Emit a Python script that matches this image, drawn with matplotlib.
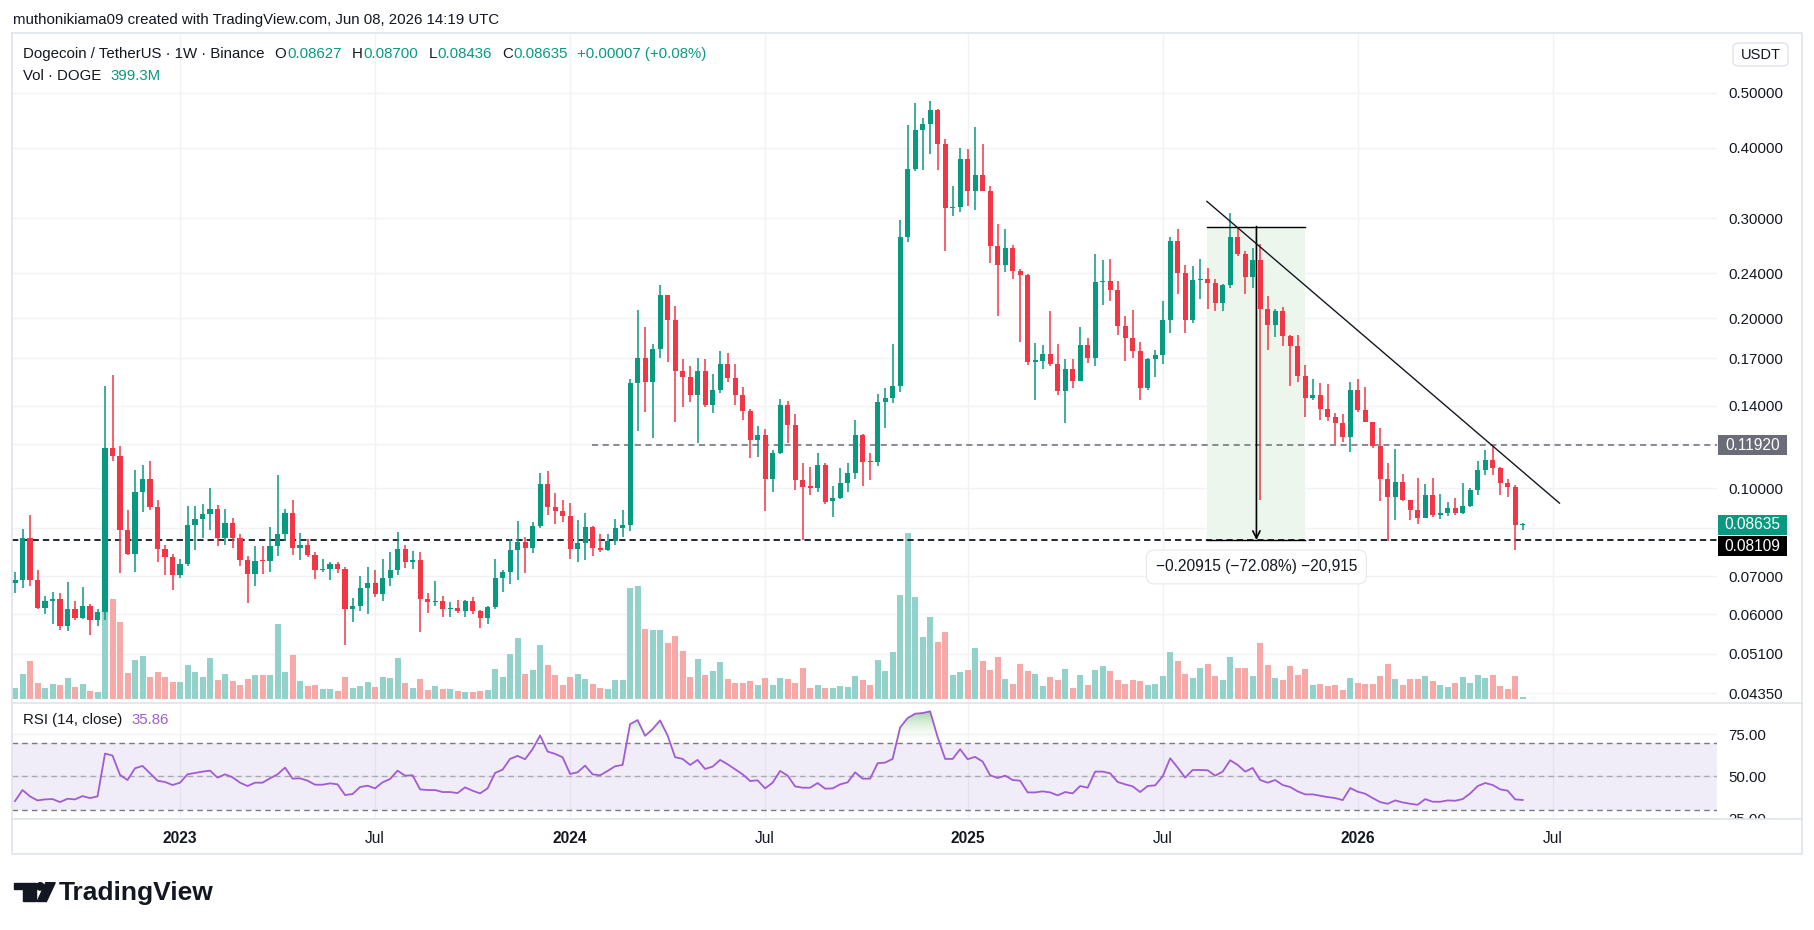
import numpy as np
import pandas as pd
import matplotlib
matplotlib.use("Agg")
import matplotlib.pyplot as plt
from matplotlib.patches import Rectangle, Circle, Polygon, FancyBboxPatch
from matplotlib.path import Path
from matplotlib.transforms import blended_transform_factory, Bbox, TransformedBbox
from matplotlib.ticker import NullLocator, FixedLocator
from matplotlib.colors import LinearSegmentedColormap

plt.rcParams["font.family"] = ["Liberation Sans", "DejaVu Sans"]

W, H = 1815, 930

# weekly DOGE/USDT candles, first week starting 2022-08-01
opens = [0.0680, 0.0689, 0.0818, 0.0690, 0.0615, 0.0632, 0.0637, 0.0572, 0.0612, 0.0591,
         0.0620, 0.0586, 0.0605, 0.1178, 0.1143, 0.0846, 0.0767, 0.0986, 0.1039, 0.0927,
         0.0783, 0.0758, 0.0702, 0.0735, 0.0862, 0.0884, 0.0901, 0.0920, 0.0819, 0.0869,
         0.0819, 0.0746, 0.0705, 0.0745, 0.0743, 0.0790, 0.0831, 0.0905, 0.0786, 0.0795,
         0.0764, 0.0718, 0.0721, 0.0734, 0.0720, 0.0613, 0.0620, 0.0667, 0.0681, 0.0651,
         0.0696, 0.0717, 0.0781, 0.0740, 0.0746, 0.0637, 0.0630, 0.0632, 0.0612, 0.0614,
         0.0607, 0.0632, 0.0608, 0.0591, 0.0617, 0.0696, 0.0711, 0.0777, 0.0805, 0.0786,
         0.0858, 0.1018, 0.0927, 0.0912, 0.0894, 0.0781, 0.0800, 0.0856, 0.0786, 0.0779,
         0.0809, 0.0852, 0.0862, 0.1537, 0.1700, 0.1539, 0.1764, 0.2196, 0.1988, 0.1615,
         0.1576, 0.1462, 0.1612, 0.1404, 0.1493, 0.1659, 0.1569, 0.1462, 0.1368, 0.1219,
         0.1243, 0.1041, 0.1156, 0.1404, 0.1296, 0.1036, 0.1008, 0.1003, 0.1098, 0.0950,
         0.0962, 0.1024, 0.1065, 0.1243, 0.1117, 0.1113, 0.1422, 0.1447, 0.1517, 0.2783,
         0.3668, 0.4301, 0.4407, 0.4668, 0.4053, 0.3124, 0.3139, 0.3819, 0.3358, 0.3581,
         0.3358, 0.2677, 0.2485, 0.2664, 0.2426, 0.2387, 0.1676, 0.1681, 0.1727, 0.1662,
         0.1488, 0.1625, 0.1551, 0.1793, 0.1703, 0.2315, 0.2330, 0.2246, 0.1934, 0.1843,
         0.1750, 0.1507, 0.1692, 0.1722, 0.1984, 0.2737, 0.2403, 0.1981, 0.2334, 0.2345,
         0.2311, 0.2129, 0.2289, 0.2783, 0.2596, 0.2368, 0.2534, 0.2072, 0.1943, 0.2062,
         0.1861, 0.1787, 0.1582, 0.1447, 0.1462, 0.1382, 0.1338, 0.1306, 0.1235, 0.1490,
         0.1374, 0.1310, 0.1189, 0.1041, 0.0965, 0.1026, 0.0953, 0.0917, 0.0888, 0.0973,
         0.0898, 0.0905, 0.0923, 0.0905, 0.0932, 0.0994, 0.1080, 0.1121, 0.1089, 0.1021,
         0.1005, 0.08627]
highs = [0.0713, 0.0847, 0.0898, 0.0717, 0.0646, 0.0656, 0.0654, 0.0683, 0.0632, 0.0670,
         0.0625, 0.0612, 0.1519, 0.1589, 0.1188, 0.0917, 0.1079, 0.1098, 0.1119, 0.0954,
         0.0796, 0.0767, 0.0752, 0.0930, 0.0930, 0.0940, 0.1000, 0.0935, 0.0920, 0.0887,
         0.0831, 0.0760, 0.0790, 0.0790, 0.0856, 0.1055, 0.0920, 0.0953, 0.0835, 0.0815,
         0.0773, 0.0752, 0.0740, 0.0740, 0.0726, 0.0641, 0.0700, 0.0726, 0.0717, 0.0752,
         0.0771, 0.0838, 0.0796, 0.0774, 0.0773, 0.0653, 0.0685, 0.0646, 0.0630, 0.0634,
         0.0635, 0.0643, 0.0610, 0.0620, 0.0750, 0.0717, 0.0815, 0.0876, 0.0822, 0.0872,
         0.1063, 0.1072, 0.0981, 0.0953, 0.0942, 0.0879, 0.0905, 0.0858, 0.0831, 0.0832,
         0.0884, 0.0917, 0.1559, 0.2066, 0.1928, 0.1799, 0.2290, 0.2200, 0.2099, 0.1692,
         0.1646, 0.1700, 0.1692, 0.1592, 0.1750, 0.1736, 0.1659, 0.1512, 0.1383, 0.1290,
         0.1273, 0.1167, 0.1438, 0.1426, 0.1353, 0.1110, 0.1092, 0.1156, 0.1107, 0.1010,
         0.1089, 0.1107, 0.1321, 0.1248, 0.1156, 0.1466, 0.1502, 0.1799, 0.2976, 0.4378,
         0.4798, 0.4507, 0.4845, 0.4684, 0.4152, 0.3423, 0.3989, 0.3976, 0.4343, 0.4053,
         0.3423, 0.2928, 0.2868, 0.2694, 0.2437, 0.2395, 0.1808, 0.1793, 0.2062, 0.1799,
         0.1692, 0.1695, 0.1928, 0.1843, 0.2596, 0.2534, 0.2542, 0.2326, 0.2013, 0.2066,
         0.1814, 0.1700, 0.1756, 0.2140, 0.2783, 0.2873, 0.2485, 0.2473, 0.2546, 0.2454,
         0.2345, 0.2293, 0.3064, 0.2896, 0.2626, 0.2664, 0.2703, 0.2186, 0.2079, 0.2089,
         0.1865, 0.1867, 0.1654, 0.1563, 0.1534, 0.1532, 0.1358, 0.1353, 0.1539, 0.1563,
         0.1510, 0.1313, 0.1279, 0.1107, 0.1175, 0.1060, 0.0955, 0.1043, 0.1018, 0.1043,
         0.0978, 0.0947, 0.0962, 0.1021, 0.1000, 0.1119, 0.1167, 0.1192, 0.1092, 0.1038,
         0.1013, 0.08700]
lows = [0.0653, 0.0667, 0.0672, 0.0613, 0.0599, 0.0575, 0.0563, 0.0559, 0.0586, 0.0589,
        0.0551, 0.0572, 0.0586, 0.1119, 0.0708, 0.0764, 0.0713, 0.0908, 0.0917, 0.0740,
        0.0702, 0.0661, 0.0694, 0.0728, 0.0779, 0.0819, 0.0846, 0.0790, 0.0796, 0.0786,
        0.0728, 0.0627, 0.0672, 0.0705, 0.0713, 0.0760, 0.0809, 0.0764, 0.0749, 0.0758,
        0.0692, 0.0711, 0.0689, 0.0708, 0.0530, 0.0582, 0.0608, 0.0601, 0.0643, 0.0633,
        0.0672, 0.0702, 0.0725, 0.0720, 0.0557, 0.0603, 0.0620, 0.0594, 0.0594, 0.0603,
        0.0594, 0.0601, 0.0568, 0.0575, 0.0613, 0.0656, 0.0678, 0.0689, 0.0708, 0.0768,
        0.0852, 0.0898, 0.0867, 0.0872, 0.0752, 0.0742, 0.0749, 0.0760, 0.0773, 0.0774,
        0.0796, 0.0822, 0.0842, 0.1262, 0.1364, 0.1229, 0.1703, 0.1673, 0.1308, 0.1392,
        0.1424, 0.1205, 0.1392, 0.1360, 0.1473, 0.1544, 0.1402, 0.1321, 0.1134, 0.1137,
        0.0912, 0.0986, 0.1150, 0.1205, 0.0992, 0.0811, 0.0973, 0.0986, 0.0940, 0.0891,
        0.0958, 0.0984, 0.1041, 0.1010, 0.1033, 0.1094, 0.1279, 0.1413, 0.1483, 0.2724,
        0.3639, 0.3650, 0.3894, 0.3650, 0.2626, 0.3034, 0.3074, 0.3149, 0.3108, 0.3350,
        0.2506, 0.2016, 0.2414, 0.2349, 0.1816, 0.1654, 0.1431, 0.1628, 0.1649, 0.1460,
        0.1304, 0.1507, 0.1549, 0.1668, 0.1649, 0.2113, 0.2147, 0.1867, 0.1681, 0.1703,
        0.1431, 0.1490, 0.1571, 0.1662, 0.1882, 0.2210, 0.1882, 0.1959, 0.2164, 0.2079,
        0.2062, 0.2056, 0.2264, 0.2575, 0.2210, 0.2264, 0.0953, 0.1756, 0.1852, 0.1784,
        0.1519, 0.1539, 0.1336, 0.1431, 0.1321, 0.1317, 0.1199, 0.1209, 0.1161, 0.1364,
        0.1308, 0.1180, 0.0950, 0.0809, 0.0881, 0.0950, 0.0879, 0.0867, 0.0886, 0.0891,
        0.0884, 0.0894, 0.0898, 0.0903, 0.0927, 0.0973, 0.1058, 0.1058, 0.0973, 0.0965,
        0.0777, 0.08436]
closes = [0.0689, 0.0818, 0.0690, 0.0615, 0.0632, 0.0637, 0.0572, 0.0612, 0.0591, 0.0620,
          0.0586, 0.0605, 0.1178, 0.1143, 0.0846, 0.0767, 0.0986, 0.1039, 0.0927, 0.0783,
          0.0758, 0.0702, 0.0735, 0.0862, 0.0884, 0.0901, 0.0920, 0.0819, 0.0869, 0.0819,
          0.0746, 0.0705, 0.0745, 0.0743, 0.0790, 0.0831, 0.0905, 0.0786, 0.0795, 0.0764,
          0.0719, 0.0721, 0.0734, 0.0720, 0.0613, 0.0620, 0.0667, 0.0681, 0.0651, 0.0696,
          0.0717, 0.0781, 0.0740, 0.0746, 0.0637, 0.0630, 0.0632, 0.0612, 0.0614, 0.0607,
          0.0632, 0.0608, 0.0591, 0.0617, 0.0696, 0.0711, 0.0777, 0.0805, 0.0786, 0.0858,
          0.1018, 0.0927, 0.0912, 0.0894, 0.0781, 0.0800, 0.0856, 0.0786, 0.0779, 0.0809,
          0.0852, 0.0862, 0.1537, 0.1700, 0.1539, 0.1764, 0.2196, 0.1988, 0.1615, 0.1576,
          0.1462, 0.1612, 0.1404, 0.1493, 0.1659, 0.1569, 0.1462, 0.1368, 0.1219, 0.1243,
          0.1041, 0.1156, 0.1404, 0.1296, 0.1036, 0.1005, 0.1003, 0.1098, 0.0947, 0.0962,
          0.1024, 0.1065, 0.1243, 0.1115, 0.1113, 0.1422, 0.1447, 0.1517, 0.2783, 0.3668,
          0.4301, 0.4407, 0.4668, 0.4053, 0.3124, 0.3139, 0.3819, 0.3358, 0.3581, 0.3358,
          0.2677, 0.2485, 0.2664, 0.2426, 0.2387, 0.1676, 0.1681, 0.1727, 0.1662, 0.1488,
          0.1625, 0.1551, 0.1793, 0.1703, 0.2315, 0.2330, 0.2246, 0.1934, 0.1843, 0.1750,
          0.1507, 0.1692, 0.1722, 0.1984, 0.2737, 0.2403, 0.1981, 0.2334, 0.2345, 0.2311,
          0.2129, 0.2289, 0.2783, 0.2596, 0.2368, 0.2534, 0.2072, 0.1943, 0.2062, 0.1861,
          0.1787, 0.1582, 0.1447, 0.1462, 0.1382, 0.1338, 0.1306, 0.1235, 0.1490, 0.1374,
          0.1310, 0.1189, 0.1041, 0.0965, 0.1026, 0.0953, 0.0917, 0.0888, 0.0973, 0.0898,
          0.0905, 0.0923, 0.0905, 0.0932, 0.0994, 0.1080, 0.1121, 0.1089, 0.1021, 0.1005,
          0.08628, 0.08635]
# weekly volume, billions of DOGE
volumes = [2.7, 6.3, 9.6, 4.0, 2.7, 3.7, 3.5, 5.3, 3.0, 3.7,
           2.0, 1.7, 27.8, 25.2, 19.4, 6.5, 9.8, 10.8, 5.5, 6.8,
           5.5, 4.3, 4.3, 8.6, 6.8, 5.5, 10.3, 4.8, 6.3, 4.5,
           3.5, 5.0, 6.0, 6.0, 6.0, 18.9, 6.8, 11.2, 4.5, 3.3,
           3.5, 2.5, 2.5, 2.0, 5.5, 2.7, 3.2, 4.3, 3.0, 5.5,
           5.3, 10.3, 4.0, 2.7, 5.0, 2.2, 3.2, 2.5, 2.5, 2.0,
           1.7, 1.7, 2.0, 2.2, 7.5, 5.5, 11.3, 15.4, 6.3, 7.3,
           13.6, 8.6, 6.0, 3.5, 5.5, 6.3, 5.0, 3.7, 2.7, 2.5,
           4.8, 4.8, 28.0, 28.5, 17.7, 17.4, 17.4, 14.1, 15.9, 12.1,
           5.5, 10.1, 6.0, 7.0, 9.3, 5.0, 4.0, 4.0, 4.5, 3.5,
           5.3, 3.5, 5.3, 5.0, 4.0, 7.8, 2.7, 3.5, 2.7, 2.7,
           3.2, 3.0, 5.8, 4.8, 3.5, 9.8, 7.0, 11.8, 26.3, 41.9,
           25.7, 15.6, 20.7, 14.4, 16.9, 6.0, 6.8, 7.3, 12.9, 9.6,
           7.3, 10.6, 5.0, 3.7, 8.8, 7.0, 6.3, 3.2, 5.5, 4.8,
           7.5, 2.7, 6.0, 3.5, 7.3, 8.3, 7.0, 4.8, 3.7, 4.8,
           4.5, 3.5, 3.7, 5.8, 11.8, 9.6, 6.3, 5.3, 7.8, 8.8,
           5.8, 4.8, 10.6, 7.8, 7.8, 5.8, 14.1, 8.6, 5.3, 4.8,
           8.3, 6.0, 7.5, 3.5, 3.7, 3.3, 3.5, 2.2, 5.3, 4.0,
           3.7, 3.7, 5.8, 8.8, 5.0, 3.5, 5.0, 5.0, 5.8, 4.5,
           3.5, 3.0, 4.0, 5.4, 4.0, 6.0, 5.3, 6.0, 3.2, 2.5,
           5.8, 0.3993]
rsi = [35.2, 41.8, 38.0, 35.6, 36.2, 36.4, 34.6, 36.6, 36.2, 38.2,
       37.0, 38.0, 63.6, 62.4, 50.8, 47.8, 54.8, 56.2, 51.8, 47.4,
       46.6, 44.8, 46.2, 51.2, 52.0, 52.8, 53.4, 49.2, 51.2, 49.4,
       46.2, 44.2, 46.2, 46.2, 48.8, 51.2, 55.2, 48.6, 48.8, 47.4,
       45.0, 45.0, 45.8, 45.2, 38.8, 39.4, 43.6, 44.4, 42.8, 46.4,
       48.4, 53.4, 50.4, 50.6, 42.2, 41.8, 41.8, 40.6, 40.6, 40.0,
       43.4, 41.4, 39.8, 42.8, 52.0, 54.0, 60.4, 62.2, 60.2, 66.2,
       74.4, 64.8, 63.4, 61.4, 51.4, 52.4, 56.4, 51.2, 50.6, 53.2,
       56.0, 56.8, 81.2, 83.6, 74.2, 78.2, 83.4, 74.4, 61.4, 60.4,
       56.8, 59.8, 54.4, 55.8, 59.8, 57.2, 54.2, 51.2, 47.2, 47.6,
       42.8, 46.2, 53.2, 50.4, 44.0, 43.2, 43.2, 46.0, 42.6, 42.8,
       45.2, 46.4, 52.4, 48.6, 48.6, 57.8, 58.2, 60.4, 79.2, 84.8,
       87.4, 87.8, 88.8, 73.4, 60.4, 60.4, 66.2, 60.2, 61.6, 58.8,
       50.6, 49.0, 50.4, 47.8, 47.4, 40.4, 40.4, 41.0, 40.4, 38.6,
       40.6, 39.8, 44.2, 43.2, 52.8, 52.8, 51.8, 46.6, 45.2, 44.0,
       40.6, 44.2, 44.6, 50.0, 60.8, 55.2, 49.2, 53.8, 53.8, 53.6,
       50.4, 52.8, 59.6, 56.8, 52.8, 55.0, 47.8, 46.2, 47.8, 44.8,
       43.6, 41.0, 39.2, 39.2, 38.4, 37.6, 37.0, 35.8, 43.0, 40.8,
       39.6, 37.0, 34.6, 33.6, 35.6, 34.4, 33.6, 33.0, 36.4, 34.8,
       34.8, 35.6, 35.4, 36.4, 39.8, 44.2, 46.0, 44.8, 42.2, 41.4,
       36.2, 35.86]

first_week = "2022-08-01"
tick_dates = ["2023-01-02", "2023-07-03", "2024-01-01", "2024-07-01",
              "2025-01-06", "2025-07-07", "2026-01-05", "2026-07-06"]
tick_labels = ["2023", "Jul", "2024", "Jul", "2025", "Jul", "2026", "Jul"]
price_ticks = [0.0435, 0.051, 0.06, 0.07, 0.085, 0.10, 0.12, 0.14, 0.17, 0.20, 0.24, 0.30, 0.40, 0.50]
hidden_ticks = [0.085, 0.12]
rsi_ticks = [25, 50, 75]

support = 0.08109
resistance = 0.11920
resistance_from = 76.9          # week index where the ray starts
trend_x = [158.9, 205.9]        # week index
trend_y = [0.3215, 0.0942]
range_x = [158.9, 172.0]
range_y = [0.08109, 0.29024]
range_arrow_x = 165.5
range_label = "\u22120.20915 (\u221272.08%) \u221220,915"

UP, DOWN = "#089981", "#F23645"
VOL_UP, VOL_DOWN = "#93D2CA", "#F7A9A7"
RSI_C = "#A15CD3"
TXT = "#131722"
GRID = "#F0F2F5"
FS = 10.8


def rect(x0, y0, x1, y1):
    return [x0 / W, 1 - y1 / H, (x1 - x0) / W, (y1 - y0) / H]


o = np.array(opens)
h = np.array(highs)
l = np.array(lows)
c = np.array(closes)
n = len(c)
x = np.arange(n)
start = pd.Timestamp(first_week)
tick_pos = [(pd.Timestamp(d) - start).days / 7 for d in tick_dates]
xlim = (-0.4, 226.9)

fig = plt.figure(figsize=(W / 100, H / 100), dpi=100)
fig.patch.set_facecolor("white")
renderer = fig.canvas.get_renderer()

# bottom layer of the price pane: grid + volume
vax = fig.add_axes(rect(12, 34, 1717, 702), zorder=0)
ax = fig.add_axes(rect(12, 34, 1717, 702), zorder=1, sharex=vax)
rax = fig.add_axes(rect(12, 703, 1717, 819), sharex=vax)
ax.patch.set_visible(False)

ax.set_yscale("log")
ax.set_ylim(0.04195, 0.6352)
vax.set_xlim(*xlim)
vax.set_ylim(-0.8, 168)

gtr = blended_transform_factory(vax.transAxes, ax.transData)
for p in price_ticks:
    vax.plot([0, 1], [p, p], transform=gtr, color=GRID, lw=1, zorder=0)
for t in tick_pos:
    vax.axvline(t, color=GRID, lw=1, zorder=0)
    rax.axvline(t, color=GRID, lw=1, zorder=0)

up = c >= o
vax.bar(x, volumes, width=0.8, color=np.where(up, VOL_UP, VOL_DOWN), linewidth=0, zorder=1)
vax.axis("off")

# candles
cols = np.where(up, UP, DOWN)
ax.vlines(x, l, h, colors=cols, lw=1.1, zorder=3)
lo = np.minimum(o, c)
hi = np.maximum(np.maximum(o, c), lo * 1.005)
ax.bar(x, hi - lo, bottom=lo, width=0.68, color=cols, linewidth=0, zorder=3)

# drawings
ax.add_patch(Rectangle((range_x[0], range_y[0]), range_x[1] - range_x[0], range_y[1] - range_y[0],
                       facecolor="#ECF6ED", edgecolor="none", zorder=1))
ax.plot(range_x, [range_y[1]] * 2, color="black", lw=1, zorder=4)
ax.plot(range_x, [range_y[0]] * 2, color="black", lw=1, zorder=4)
ax.annotate("", xy=(range_arrow_x, range_y[0]), xytext=(range_arrow_x, range_y[1]),
            arrowprops=dict(arrowstyle="->", color="black", lw=1.2, shrinkA=0, shrinkB=0,
                            mutation_scale=13), zorder=4)
ax.text(range_arrow_x, range_y[0] * np.exp(-27 / 246), range_label, ha="center", va="center",
        fontsize=11.2, color=TXT, zorder=6,
        bbox=dict(boxstyle="round,pad=0.6,rounding_size=0.5", fc="white", ec="#E6E8ED", lw=0.8))

ax.plot(trend_x, trend_y, color="#131722", lw=1, zorder=4)
ax.axhline(support, color="#131722", lw=1.3, linestyle=(0, (3.5, 2.2)), zorder=2)
ax.plot([resistance_from, xlim[1]], [resistance] * 2, color="#6A6D78", lw=1.1,
        linestyle=(0, (4, 3)), zorder=2)

# price scale
ax.yaxis.tick_right()
ax.yaxis.set_minor_locator(NullLocator())
ax.yaxis.set_major_locator(FixedLocator(price_ticks))
ax.set_yticklabels(["" if p in hidden_ticks else f"{p:.5f}" for p in price_ticks])
ax.tick_params(axis="y", length=0, pad=8, labelsize=FS, labelcolor=TXT)
ax.tick_params(axis="x", bottom=False, labelbottom=False)
for s in ax.spines.values():
    s.set_visible(False)

ttr = blended_transform_factory(ax.transAxes, ax.transData)


def price_tag(center, text, face):
    ax.add_patch(Rectangle((1.0006, center * np.exp(-10 / 246)), 0.0407,
                           center * (np.exp(10 / 246) - np.exp(-10 / 246)),
                           transform=ttr, facecolor=face, edgecolor="none", clip_on=False, zorder=6))
    ax.text(1.0006 + 0.0407 / 2, center, text, transform=ttr, ha="center", va="center",
            color="white", fontsize=11.2, clip_on=False, zorder=7)


price_tag(resistance, f"{resistance:.5f}", "#6A6D78")
price_tag(c[-1], f"{c[-1]:.5f}", UP)
price_tag(support * np.exp(-6.5 / 246), f"{support:.5f}", "#000000")

# RSI pane
r = np.array(rsi)
rax.set_ylim(24.5, 93.8)
rax.set_xlim(*xlim)
for v in rsi_ticks:
    rax.axhline(v, color=GRID, lw=1, zorder=0)
rax.axhspan(30, 70, color="#7E57C2", alpha=0.1, lw=0, zorder=1)
rax.axhline(70, color="#787B86", lw=1, linestyle=(0, (4, 3)), zorder=2)
rax.axhline(30, color="#787B86", lw=1, linestyle=(0, (4, 3)), zorder=2)
rax.axhline(50, color="#A8AAB3", lw=1, linestyle=(0, (4, 3)), zorder=2)
over = rax.fill_between(x, 70, r, where=r > 70, interpolate=True, facecolor="none", edgecolor="none")
cmap = LinearSegmentedColormap.from_list("ob", [(1, 1, 1, 0), (0.30, 0.69, 0.31, 0.6)])
img = rax.imshow(np.linspace(0, 1, 100).reshape(-1, 1), extent=[xlim[0], xlim[1], 70, 90],
                 origin="lower", aspect="auto", cmap=cmap, zorder=2)
img.set_clip_path(Path.make_compound_path(*over.get_paths()), transform=rax.transData)
rax.plot(x, r, color=RSI_C, lw=1.3, zorder=3)
rax.set_ylim(24.5, 93.8)
rax.set_xlim(*xlim)
rax.yaxis.tick_right()
rax.set_yticks(rsi_ticks)
rax.set_yticklabels([f"{v:.2f}" for v in rsi_ticks])
rax.tick_params(axis="y", length=0, pad=8, labelsize=FS, labelcolor=TXT)
# the scale labels are cut at the pane edge, like the lowest one in the reference
label_clip = TransformedBbox(Bbox([[0, 0], [1.1, 1]]), rax.transAxes)
for lab in rax.get_yticklabels():
    lab.set_clip_on(True)
    lab.set_clip_box(label_clip)
rax.set_xticks(tick_pos)
rax.set_xticklabels(tick_labels)
rax.tick_params(axis="x", length=0, pad=8.5, labelsize=11.2, labelcolor=TXT)
for lab in rax.get_xticklabels():
    if lab.get_text().isdigit():
        lab.set_fontweight("bold")
for s in rax.spines.values():
    s.set_visible(False)

# frame and separators
frame = dict(color="#E0E3EB", lw=1.2, transform=fig.transFigure)
fig.add_artist(plt.Line2D([12 / W, 1802 / W, 1802 / W, 12 / W, 12 / W],
                          [1 - 33 / H, 1 - 33 / H, 1 - 854 / H, 1 - 854 / H, 1 - 33 / H], **frame))
fig.add_artist(plt.Line2D([12 / W, 1802 / W], [1 - 702.5 / H] * 2, **frame))
fig.add_artist(plt.Line2D([12 / W, 1802 / W], [1 - 819 / H] * 2, **frame))


def ftext(px, py, s, **kw):
    return fig.text(px / W, 1 - py / H, s, va="center", **kw)


def chain(px, py, parts, size=FS):
    # lay texts out one after another, using their measured widths
    for s, col, gap in parts:
        t = ftext(px, py, s, fontsize=size, color=col)
        px += t.get_window_extent(renderer).width + gap


ftext(13, 20, "muthonikiama09 created with TradingView.com, Jun 08, 2026 14:19 UTC", fontsize=FS, color=TXT)
chg = c[-1] - c[-2]
chain(23, 54, [("Dogecoin / TetherUS \u00b7 1W \u00b7 Binance", TXT, 10),
               ("O", TXT, 1), (f"{o[-1]:.5f}", UP, 10),
               ("H", TXT, 1), (f"{h[-1]:.5f}", UP, 10),
               ("L", TXT, 1), (f"{l[-1]:.5f}", UP, 10),
               ("C", TXT, 1), (f"{c[-1]:.5f}", UP, 9),
               (f"+{chg:.5f} (+{chg / c[-2] * 100:.2f}%)", UP, 0)])
chain(23, 76, [("Vol \u00b7 DOGE", TXT, 9), (f"{volumes[-1] * 1000:.1f}M", UP, 0)])
chain(23, 720, [("RSI (14, close)", TXT, 9), (f"{r[-1]:.2f}", RSI_C, 0)])

fig.add_artist(FancyBboxPatch((1733 / W, 1 - 66 / H), 55 / W, 23 / H,
                              boxstyle="round,pad=0,rounding_size=0.004", transform=fig.transFigure,
                              facecolor="white", edgecolor="#E0E3EB", lw=1))
ftext(1760.5, 55, "USDT", fontsize=10.5, color=TXT, ha="center")

# TradingView logo
lax = fig.add_axes(rect(10, 878, 60, 908))
lax.set_xlim(10, 60)
lax.set_ylim(908, 878)
lax.axis("off")
lax.add_patch(Polygon([(14.4, 882.7), (35.6, 882.7), (35.6, 901.5), (23.5, 901.5),
                       (23.5, 889.5), (14.4, 889.5)], closed=True, color="#131722"))
lax.add_patch(Circle((40.2, 886.4), 3.7, color="#131722"))
lax.add_patch(Polygon([(45.8, 882.7), (55.2, 882.7), (46.4, 901.5), (37.2, 901.5)],
                      closed=True, color="#131722"))
ftext(59, 893, "TradingView", fontsize=19, fontweight="bold", color="#131722")

fig.savefig("out.png", dpi=100)
